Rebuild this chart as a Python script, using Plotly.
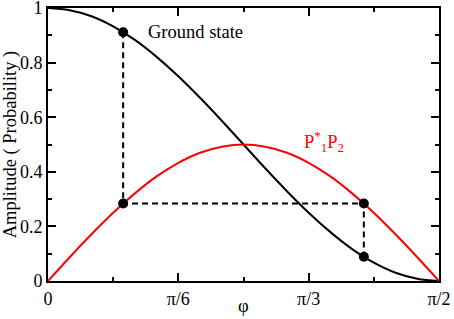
import plotly.graph_objects as go

# phi in degrees (0 .. 90 == 0 .. pi/2)
phi = [0, 5, 10, 15, 20, 25, 30, 35, 40, 45, 50, 55, 60, 65, 70, 75, 80, 85, 90]
ground_state = [1.0, 0.992, 0.970, 0.933, 0.883, 0.821, 0.750, 0.671, 0.587, 0.500,
                0.413, 0.329, 0.250, 0.179, 0.117, 0.067, 0.030, 0.008, 0.0]
p1p2 = [0.0, 0.087, 0.171, 0.250, 0.321, 0.383, 0.433, 0.470, 0.492, 0.500,
        0.492, 0.470, 0.433, 0.383, 0.321, 0.250, 0.171, 0.087, 0.0]

marker_phi = [17.3, 17.3, 72.7, 72.7]
marker_val = [0.911, 0.284, 0.284, 0.089]

x_tickvals = [0, 30, 60, 90]
x_ticktext = ["0", "π/6", "π/3", "π/2"]
y_tickvals = [0, 0.2, 0.4, 0.6, 0.8, 1.0]
y_ticktext = ["0", "0.2", "0.4", "0.6", "0.8", "1"]

FONT = "Liberation Serif"

fig = go.Figure()
fig.add_trace(go.Scatter(x=phi, y=ground_state, mode="lines",
                         line=dict(color="black", width=2, shape="spline"), showlegend=False))
fig.add_trace(go.Scatter(x=phi, y=p1p2, mode="lines",
                         line=dict(color="#ff0000", width=2, shape="spline"), showlegend=False))
# dashed connectors
fig.add_trace(go.Scatter(x=marker_phi, y=marker_val,
                         mode="lines", line=dict(color="black", width=2, dash="6px,4px"),
                         showlegend=False))
fig.add_trace(go.Scatter(x=marker_phi, y=marker_val, mode="markers",
                         marker=dict(color="black", size=10), showlegend=False))

fig.add_annotation(x=22.5, y=0.912, text="Ground state", showarrow=False,
                   xanchor="left", yanchor="middle", font=dict(family=FONT, size=18.5, color="black"))
fig.add_annotation(x=58.5, y=0.51, text="P<sup>*</sup><sub>1</sub>P<sub>2</sub>", showarrow=False,
                   xanchor="left", yanchor="middle", font=dict(family=FONT, size=18.5, color="#ff0000"))
# x-axis title
fig.add_annotation(xref="paper", yref="paper", x=0.5, y=-0.092, text="φ", showarrow=False,
                   xanchor="center", yanchor="middle", font=dict(family=FONT, size=18.5, color="black"))

axis_common = dict(showline=True, linecolor="black", linewidth=2, mirror="allticks",
                   ticks="inside", ticklen=8, tickwidth=2, tickcolor="black",
                   showgrid=False, zeroline=False, automargin=False,
                   ticklabeloverflow="allow",
                   tickfont=dict(family=FONT, size=18, color="black"))

fig.update_xaxes(range=[0, 90], tickvals=x_tickvals, ticktext=x_ticktext,
                 minor=dict(ticks="inside", ticklen=4, tickwidth=2, tickcolor="black", dtick=15, tick0=0),
                 **axis_common)
fig.update_yaxes(range=[0, 1], tickvals=y_tickvals, ticktext=y_ticktext,
                 minor=dict(ticks="inside", ticklen=4, tickwidth=2, tickcolor="black", dtick=0.1, tick0=0),
                 title=dict(text="Amplitude ( Probability )", font=dict(family=FONT, size=18.5, color="black"), standoff=2),
                 **axis_common)

fig.update_layout(width=454, height=319, margin=dict(l=48, r=15, t=8, b=38),
                  plot_bgcolor="white", paper_bgcolor="white")

fig.write_html("out.html", config={"displayModeBar": False},
               post_script="document.body.style.margin='0px';document.body.style.padding='0px';")
